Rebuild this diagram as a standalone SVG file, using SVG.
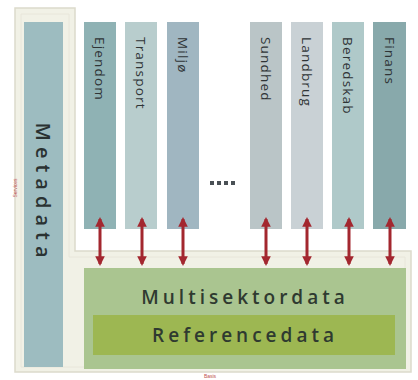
<svg xmlns="http://www.w3.org/2000/svg" width="418" height="380" viewBox="0 0 418 380">
<style>
.col{stroke:none}
.lbl{font-family:"Open Sans","Liberation Sans",sans-serif;font-size:13.5px;fill:#2f3436;letter-spacing:1.2px;dominant-baseline:central}
.big{font-family:"Open Sans","Liberation Sans",sans-serif;font-size:19px;font-weight:600;fill:#2f3a30;letter-spacing:4px;text-anchor:middle;dominant-baseline:central}
.arr{stroke:#a3272f;stroke-width:3;fill:none;marker-start:url(#ah);marker-end:url(#ah)}
.tiny{font-family:"Liberation Sans",sans-serif;font-size:5px;fill:#c0504d}
</style>
<defs>
<marker id="ah" viewBox="0 0 10 10" refX="8" refY="5" markerWidth="3.2" markerHeight="3.2" orient="auto-start-reverse">
<path d="M0,0 L10,5 L0,10 z" fill="#a3272f"/>
</marker>
</defs>
<rect width="418" height="380" fill="#ffffff"/>
<g id="frame">
<path d="M15,8 H75 V251 H411 V372 H15 Z" fill="#f1f1e6" stroke="#dcdacb" stroke-width="1.5"/>
<path d="M21,14 H69 V257 H405 V367 H21 Z" fill="none" stroke="#e8e6da" stroke-width="1"/>
<text class="tiny" transform="translate(17,188) rotate(-90)" text-anchor="middle">Services</text>
<text class="tiny" x="210" y="378" text-anchor="middle">Basis</text>
</g>
<g id="metadata">
<rect x="24" y="22" width="39" height="345" fill="#9dbcc0"/>
<text class="big" style="font-size:20px;letter-spacing:6px;fill:#2a3232" transform="translate(43,193) rotate(90)">Metadata</text>
</g>
<g id="ejendom">
<rect class="col" x="84" y="22" width="32" height="207" fill="#8fb2b4"/>
<text class="lbl" transform="translate(100,37) rotate(90)">Ejendom</text>
</g>
<g id="transport">
<rect class="col" x="125" y="22" width="32" height="207" fill="#b8cdcd"/>
<text class="lbl" transform="translate(141,37) rotate(90)">Transport</text>
</g>
<g id="miljo">
<rect class="col" x="167" y="22" width="32" height="207" fill="#a0b6c1"/>
<text class="lbl" transform="translate(183,37) rotate(90)">Miljø</text>
</g>
<g id="dots">
<rect x="210" y="181" width="4" height="4" fill="#4a5055"/>
<rect x="217" y="181" width="4" height="4" fill="#4a5055"/>
<rect x="224" y="181" width="4" height="4" fill="#4a5055"/>
<rect x="231" y="181" width="4" height="4" fill="#4a5055"/>
</g>
<g id="sundhed">
<rect class="col" x="250" y="22" width="32" height="207" fill="#bac5c7"/>
<text class="lbl" transform="translate(266,37) rotate(90)">Sundhed</text>
</g>
<g id="landbrug">
<rect class="col" x="291" y="22" width="32" height="207" fill="#c9d1d5"/>
<text class="lbl" transform="translate(307,37) rotate(90)">Landbrug</text>
</g>
<g id="beredskab">
<rect class="col" x="332" y="22" width="32" height="207" fill="#afc9c9"/>
<text class="lbl" transform="translate(348,37) rotate(90)">Beredskab</text>
</g>
<g id="finans">
<rect class="col" x="373" y="22" width="33" height="207" fill="#88a9ab"/>
<text class="lbl" transform="translate(390,37) rotate(90)">Finans</text>
</g>
<g id="multisektordata">
<rect x="84" y="268" width="322" height="101" fill="#aac590"/>
<text class="big" x="245" y="297">Multisektordata</text>
</g>
<g id="referencedata">
<rect x="93" y="315" width="302" height="40" fill="#9db752"/>
<text class="big" x="245" y="335">Referencedata</text>
</g>
<g id="connectors">
<line class="arr" x1="100" y1="219" x2="100" y2="264"/>
<line class="arr" x1="142" y1="219" x2="142" y2="264"/>
<line class="arr" x1="183" y1="219" x2="183" y2="264"/>
<line class="arr" x1="266" y1="219" x2="266" y2="264"/>
<line class="arr" x1="307" y1="219" x2="307" y2="264"/>
<line class="arr" x1="349" y1="219" x2="349" y2="264"/>
<line class="arr" x1="390" y1="219" x2="390" y2="264"/>
</g>
</svg>
